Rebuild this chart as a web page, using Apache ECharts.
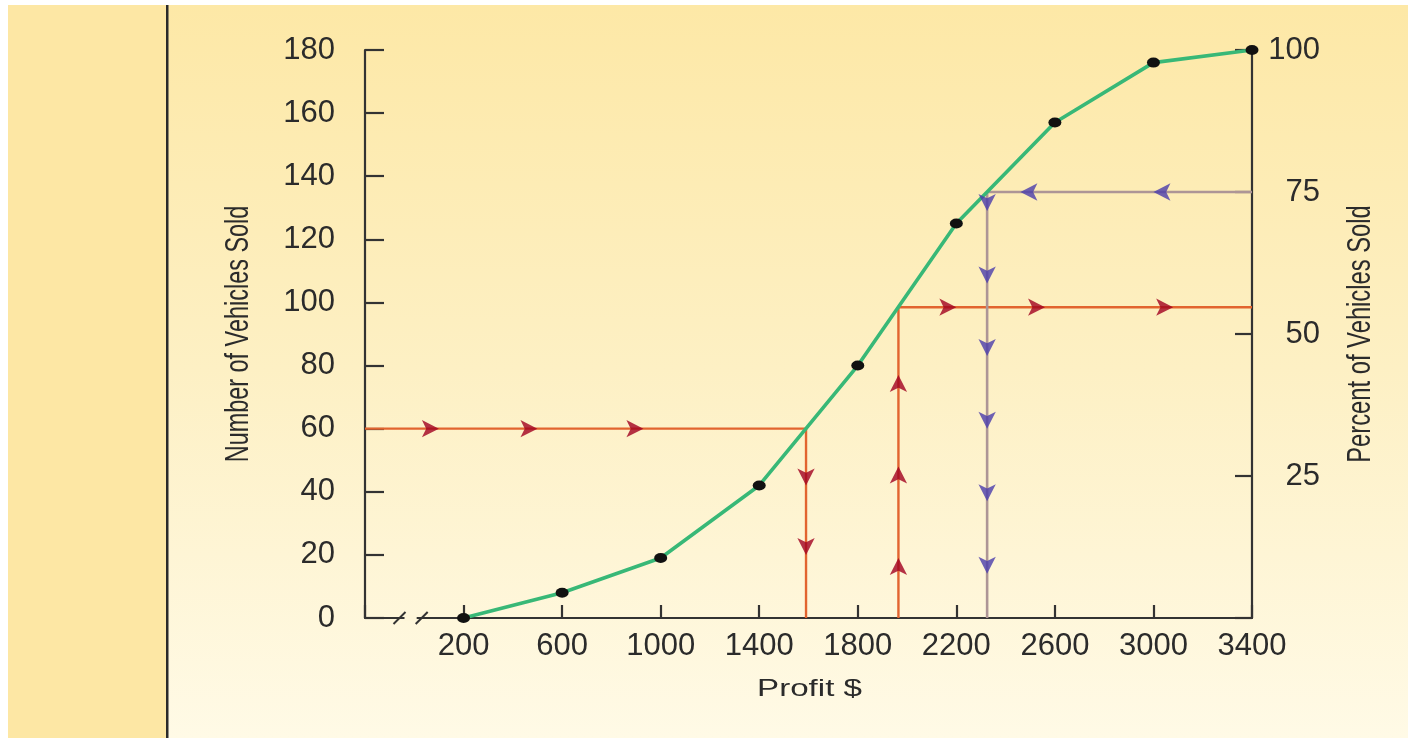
<!DOCTYPE html>
<html>
<head>
<meta charset="utf-8">
<style>
    html, body { margin: 0; padding: 0; background: #ffffff; }
    #main { width: 1408px; height: 738px; }
</style>
<script src="https://cdn.jsdelivr.net/npm/echarts@6/dist/echarts.min.js"></script>
</head>
<body>
<div id="main"></div>
<script>
// cumulative curve
var profit = [200, 600, 1000, 1400, 1800, 2200, 2600, 3000, 3400];
var vehicles = [0, 8, 19, 42, 80, 125, 157, 176, 180];

// guide lines
var redPathA = [[-200, 60], [1590, 60], [1590, 0]];
var redPathB = [[1965, 0], [1965, 98.5], [3400, 98.5]];
var purplePath = [[3400, 135], [2325, 135], [2325, 0]];

// arrow heads on the guide lines
var redArrowsRight = [[100, 60], [500, 60], [930, 60], [2200, 98.5], [2560, 98.5], [3080, 98.5]];
var redArrowsDown = [[1590, 42], [1590, 20]];
var redArrowsUp = [[1965, 19], [1965, 48], [1965, 77]];
var purpleArrowsLeft = [[2460, 135], [3000, 135]];
var purpleArrowsDown = [[2325, 129], [2325, 106], [2325, 83], [2325, 60], [2325, 37], [2325, 14]];

var FONT = 'Liberation Sans, Arial, sans-serif';
var INK = '#2b2b2b';
var AXIS = '#333333';

function arrows(points, rot, color, name) {
    return {
        name: name,
        type: 'scatter',
        symbol: 'arrow',
        symbolSize: [13, 17],
        z: 5,
        itemStyle: { color: color },
        data: points.map(function (p) {
            return { value: p, symbolRotate: rot };
        })
    };
}

var myChart = echarts.init(document.getElementById('main'));

var option = {
    animation: false,
    backgroundColor: {
        type: 'linear', x: 0, y: 0, x2: 0, y2: 1,
        colorStops: [
            { offset: 0, color: '#fde8a6' },
            { offset: 0.5, color: '#fdf0c4' },
            { offset: 1, color: '#fffae6' }
        ]
    },
    grid: { left: 365, right: 156, top: 50, bottom: 120 },
    xAxis: {
        type: 'value',
        min: -200,
        max: 3400,
        interval: 400,
        axisLine: { onZero: false, lineStyle: { color: AXIS, width: 2.2 } },
        axisTick: { inside: true, length: 13, lineStyle: { color: AXIS, width: 2.2 } },
        axisLabel: {
            margin: 13,
            fontFamily: FONT, fontSize: 31, color: INK,
            formatter: function (v) { return v < 200 ? '' : String(v); }
        },
        splitLine: { show: false }
    },
    yAxis: [
        {
            type: 'value',
            min: 0,
            max: 180,
            interval: 20,
            axisLine: { show: true, onZero: false, lineStyle: { color: AXIS, width: 2.2 } },
            axisTick: { show: true, inside: true, length: 19, lineStyle: { color: AXIS, width: 2.2 } },
            axisLabel: { margin: 30, fontFamily: FONT, fontSize: 31, color: INK },
            splitLine: { show: false }
        },
        {
            type: 'value',
            position: 'right',
            min: 0,
            max: 100,
            interval: 25,
            axisLine: { show: true, onZero: false, lineStyle: { color: AXIS, width: 2.2 } },
            axisTick: { show: true, inside: true, length: 17, lineStyle: { color: AXIS, width: 2.2 } },
            axisLabel: {
                margin: 68, align: 'right',
                fontFamily: FONT, fontSize: 31, color: INK,
                formatter: function (v) { return v === 0 ? '' : String(v); }
            },
            splitLine: { show: false }
        }
    ],
    series: [
        {
            name: 'red A', type: 'line', data: redPathA, symbol: 'none', z: 2,
            lineStyle: { color: '#e2642f', width: 2.4 }
        },
        {
            name: 'red B', type: 'line', data: redPathB, symbol: 'none', z: 2,
            lineStyle: { color: '#e2642f', width: 2.4 }
        },
        {
            name: 'purple', type: 'line', data: purplePath, symbol: 'none', z: 2,
            lineStyle: { color: '#ad9596', width: 2.6 }
        },
        {
            name: 'vehicles', type: 'line', z: 4,
            data: profit.map(function (p, i) { return [p, vehicles[i]]; }),
            symbol: 'circle',
            symbolSize: [13, 10],
            itemStyle: { color: '#111111' },
            lineStyle: { color: '#38b877', width: 3.6 }
        },
        arrows(redArrowsRight, -90, '#a1001f', 'ra'),
        arrows(redArrowsDown, 180, '#a1001f', 'rd'),
        arrows(redArrowsUp, 0, '#a1001f', 'ru'),
        arrows(purpleArrowsLeft, 90, '#4a3cab', 'pl'),
        arrows(purpleArrowsDown, 180, '#4a3cab', 'pd')
    ]
};

myChart.setOption(option);

// page frame, axis titles (condensed type) and the axis break marks
var y0 = myChart.convertToPixel({ yAxisIndex: 0 }, 0);
var yMid = (myChart.convertToPixel({ yAxisIndex: 0 }, 180) + y0) / 2;
var xL = myChart.convertToPixel({ xAxisIndex: 0 }, -200);
var xR = myChart.convertToPixel({ xAxisIndex: 0 }, 3400);
var b1 = myChart.convertToPixel({ xAxisIndex: 0 }, -60);
var b2 = myChart.convertToPixel({ xAxisIndex: 0 }, 30);
myChart.setOption({
    graphic: [
        { type: 'rect', left: 0, top: 0, shape: { width: 1408, height: 5 }, style: { fill: '#ffffff' }, z: 100 },
        { type: 'rect', left: 0, top: 0, shape: { width: 8, height: 738 }, style: { fill: '#ffffff' }, z: 100 },
        { type: 'rect', left: 8, top: 5, shape: { width: 158, height: 733 }, style: { fill: '#fde7a4' }, z: 100 },
        { type: 'rect', left: 166, top: 5, shape: { width: 2.5, height: 733 }, style: { fill: '#2a2a2a' }, z: 100 },
        { type: 'rect', x: b1 + 5, y: y0 - 3, shape: { width: b2 - b1 - 10, height: 6 }, style: { fill: '#fef6d9' }, z: 100 },
        { type: 'line', shape: { x1: b1 - 6, y1: y0 + 6, x2: b1 + 6, y2: y0 - 6 }, style: { stroke: AXIS, lineWidth: 2 }, z: 101 },
        { type: 'line', shape: { x1: b2 - 6, y1: y0 + 6, x2: b2 + 6, y2: y0 - 6 }, style: { stroke: AXIS, lineWidth: 2 }, z: 101 },
        {
            type: 'text', x: xL - 126, y: yMid, rotation: Math.PI / 2, scaleX: 0.71, z: 101,
            style: { text: 'Number of Vehicles Sold', font: '33px ' + FONT, fill: INK, align: 'center', verticalAlign: 'middle' }
        },
        {
            type: 'text', x: xR + 109, y: yMid, rotation: Math.PI / 2, scaleX: 0.72, z: 101,
            style: { text: 'Percent of Vehicles Sold', font: '33px ' + FONT, fill: INK, align: 'center', verticalAlign: 'middle' }
        },
        {
            type: 'text', x: (xL + xR) / 2 + 1, y: y0 + 71, scaleX: 1.38, z: 101,
            style: { text: 'Profit $', font: '24px ' + FONT, fill: INK, align: 'center', verticalAlign: 'middle' }
        }
    ]
});
window.onresize = myChart.resize;
</script>
</body>
</html>
